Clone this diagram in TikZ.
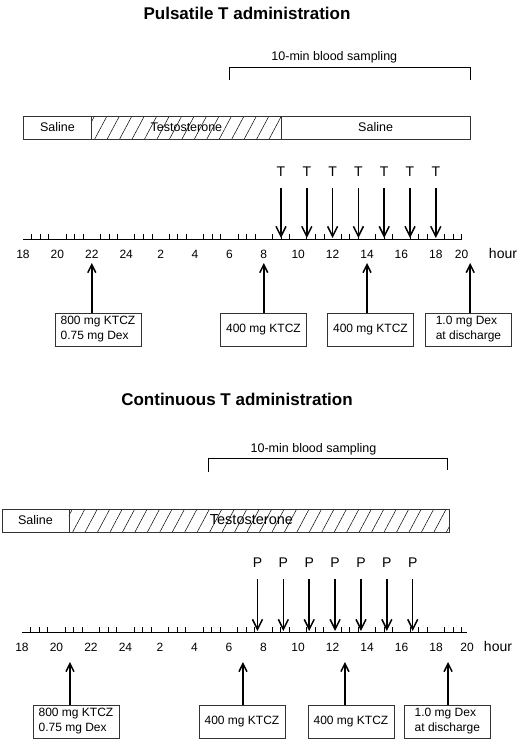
\documentclass[tikz,border=0pt]{standalone}
\usepackage{fontspec}
\setmainfont{Liberation Sans}
\usetikzlibrary{
  arrows.meta,
  positioning,
  patterns.meta
}
\tikzset{
  heading/.style  = {font=\fontsize{17}{20}\selectfont\bfseries, inner sep=0pt},
  lbl/.style      = {font=\fontsize{12.5}{15}\selectfont, inner sep=0pt},
  hourlbl/.style  = {font=\fontsize{12}{14}\selectfont, inner sep=0pt},
  pulse/.style    = {font=\fontsize{14}{16}\selectfont, inner sep=0pt},
  seg/.style      = {draw=black!80, line width=0.8pt},
  hatched/.style  = {seg, pattern={Lines[angle=62,distance=11pt,line width=0.5pt]}},
  dose/.style     = {draw=black!80, line width=0.8pt, align=left,
                     font=\fontsize{12}{15}\selectfont,
                     minimum height=33pt, minimum width=86pt, inner xsep=3pt},
  arrow/.style    = {-{Straight Barb[length=10pt,width=10pt]}, line width=1.5pt},
  thinarrow/.style= {-{Straight Barb[length=8pt,width=8pt]}, line width=1.5pt},
  axis/.style     = {line width=0.9pt},
}

\begin{document}
\begin{tikzpicture}[x=1pt, y=-1pt]
\useasboundingbox (0,0) rectangle (520,739);

% ---------------- pulsatile ----------------
\node[heading] (ttlA) at (247,13) {Pulsatile T administration};
\node[hourlbl, font=\fontsize{14}{16}\selectfont] (hrA) at (503,253) {hour};

\begin{scope}[x=17.2pt, xshift=23pt]
  \node[lbl] (sampA) at (18.1,57) {10-min blood sampling};
  \draw[axis] (12,80) -- (12,67) -- (26,67) -- (26,80);

  \draw[seg] (0,116) rectangle (4,139);
  \draw[hatched] (4,116) rectangle (15,139);
  \draw[seg] (15,116) rectangle (26,139);
  \node[lbl] (salA1) at (2,127.5) {Saline};
  \node[lbl] (testA) at (9.5,127.5) {Testosterone};
  \node[lbl] (salA2) at (20.5,127.5) {Saline};

  % time axis
  \draw[axis] (0,239) -- (25.5,239);
  \foreach \d in {0,2,...,24}
    \foreach \q in {0.5,1,1.5}
      \draw[axis] (\d+\q,239) -- ++(0,-5);
  \foreach \h/\t in {0/18,2/20,4/22,6/24,8/2,10/4,12/6,14/8,16/10,18/12,20/14,22/16,24/18,25.5/20}
    \node[hourlbl] at (\h,254) {\t};

  % T pulses
  \foreach \h [count=\i] in {15,16.5,18,19.5,21,22.5,24}{
    \node[pulse] (tp\i) at (\h,172) {T};
    \coordinate (ta\i) at (\h,238);
    \draw[arrow] ([yshift=-11pt]tp\i.south) -- (ta\i);
  }

  % doses
  \node[dose] (dA1) at (4.36,329.5) {800 mg KTCZ\\0.75 mg Dex};
  \node[dose] (dA2) at (13.98,329.5) {400 mg KTCZ};
  \node[dose] (dA3) at (20.2,329.5) {400 mg KTCZ};
  \node[dose] (dA4) at (25.9,329.5) {1.0 mg Dex\\at discharge};
  \foreach \h [count=\i] in {4,14,20,26}{
    \coordinate (ca\i) at (\h,263);
    \draw[thinarrow] (dA\i.north -| ca\i) -- (ca\i);
  }
\end{scope}

% ---------------- continuous ----------------
\node[heading] (ttlB) at (237,399) {Continuous T administration};
\node[hourlbl, font=\fontsize{14}{16}\selectfont] (hrB) at (498,646) {hour};

\begin{scope}[x=17.25pt, xshift=22pt]
  \node[lbl] (sampB) at (16.9,449) {10-min blood sampling};
  \draw[axis] (10.78,472) -- (10.78,458) -- (24.64,458) -- (24.64,470);

  \draw[seg] (-1.16,509) rectangle (2.72,532);
  \draw[hatched] (2.72,509) rectangle (24.75,532);
  \node[lbl] (salB) at (0.78,520.5) {Saline};
  \node[lbl, font=\fontsize{14.5}{16}\selectfont] (testB) at (13.3,520) {Testosterone};

  % time axis
  \draw[axis] (0,632) -- (25.8,632);
  \foreach \d in {0,2,...,24}
    \foreach \q in {0.5,1,1.5}
      \draw[axis] (\d+\q,632) -- ++(0,-5);
  \foreach \h/\t in {0/18,2/20,4/22,6/24,8/2,10/4,12/6,14/8,16/10,18/12,20/14,22/16,24/18,25.8/20}
    \node[hourlbl] at (\h,647) {\t};

  % P pulses
  \foreach \h [count=\i] in {13.65,15.15,16.65,18.15,19.65,21.15,22.65}{
    \node[pulse] (pp\i) at (\h,563) {P};
    \coordinate (pa\i) at (\h,631);
    \draw[arrow] ([yshift=-11pt]pp\i.south) -- (pa\i);
  }

  % doses
  \node[dose] (dB1) at (3.13,721.5) {800 mg KTCZ\\0.75 mg Dex};
  \node[dose] (dB2) at (12.75,721.5) {400 mg KTCZ};
  \node[dose] (dB3) at (19.07,721.5) {400 mg KTCZ};
  \node[dose] (dB4) at (24.66,721.5) {1.0 mg Dex\\at discharge};
  \foreach \h [count=\i] in {2.78,12.81,18.72,24.7}{
    \coordinate (cb\i) at (\h,662);
    \draw[thinarrow] (dB\i.north -| cb\i) -- (cb\i);
  }
\end{scope}
\end{tikzpicture}
\end{document}
